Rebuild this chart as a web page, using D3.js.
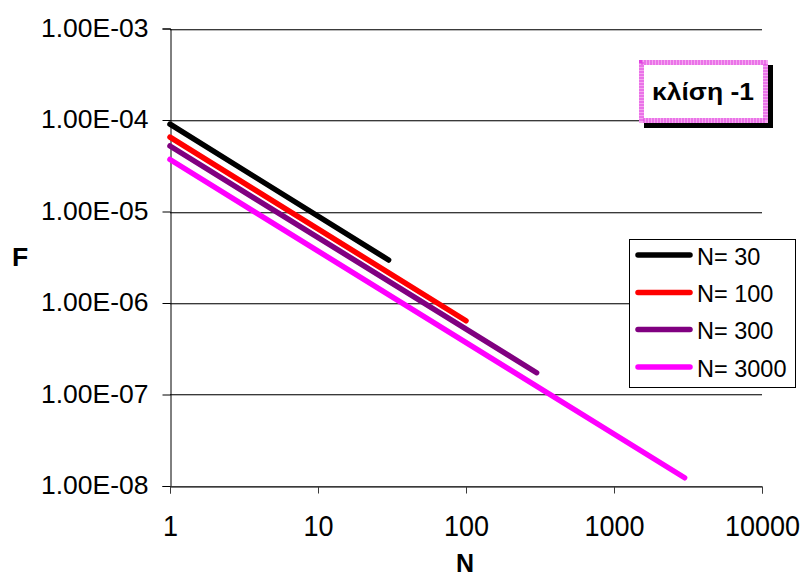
<!DOCTYPE html>
<html>
<head>
<meta charset="utf-8">
<script src="https://cdn.jsdelivr.net/npm/d3@7"></script>
<style>
  html, body { margin: 0; padding: 0; background: #fff; }
  svg { display: block; font-family: Arial, "Liberation Sans", sans-serif; }
</style>
</head>
<body>
<svg id="chart" width="804" height="575"></svg>
<script>
// Series: F against N, one straight log-log segment per system size
const seriesNames = ["N= 30", "N= 100", "N= 300", "N= 3000"];
const seriesColors = ["#000000", "#ff0000", "#800080", "#ff00ff"];
const nFirst = [1, 1, 1, 1];
const nLast = [30, 100, 300, 3000];
const fFirst = [9.0e-5, 6.5e-5, 5.2e-5, 3.7e-5];
const fLast = [2.95e-6, 6.4e-7, 1.73e-7, 1.23e-8];

// Axis ticks
const xTicks = [1, 10, 100, 1000, 10000];
const yTicks = [1e-3, 1e-4, 1e-5, 1e-6, 1e-7, 1e-8];
const slopeNote = "κλίση -1";

const svg = d3.select("#chart");
const plot = { left: 170, right: 762, top: 28.5, bottom: 486 };

const x = d3.scaleLog().domain([1, 10000]).range([plot.left, plot.right]);
const y = d3.scaleLog().domain([1e-8, 1e-3]).range([plot.bottom, plot.top]);

const fmtY = v => {
  const e = Math.round(Math.log10(v));
  const m = v / Math.pow(10, e);
  const sign = e < 0 ? "-" : "+";
  return m.toFixed(2) + "E" + sign + String(Math.abs(e)).padStart(2, "0");
};

// Horizontal gridlines (dark line with a soft grey edge below)
const grid = svg.append("g");
grid.selectAll("line.g2").data(yTicks).join("line")
  .attr("x1", plot.left).attr("x2", plot.right)
  .attr("y1", d => Math.round(y(d)) + 1.5).attr("y2", d => Math.round(y(d)) + 1.5)
  .attr("stroke", "#b8b8b8").attr("stroke-width", 1);
grid.selectAll("line.g1").data(yTicks).join("line")
  .attr("x1", plot.left).attr("x2", plot.right)
  .attr("y1", d => Math.round(y(d)) + 0.5).attr("y2", d => Math.round(y(d)) + 0.5)
  .attr("stroke", "#3a3a3a").attr("stroke-width", 1);

// Y axis
const yAxis = d3.axisLeft(y).tickValues(yTicks).tickFormat(fmtY).tickSize(8).tickPadding(14);
const gy = svg.append("g").attr("transform", `translate(${plot.left + 0.5},0)`).call(yAxis);
gy.select(".domain").attr("stroke", "#000");
gy.selectAll(".tick line").attr("stroke", "#000");
gy.selectAll(".tick text").attr("font-size", 26.5).attr("fill", "#000")
  .attr("dy", "0.3em")
  .attr("font-family", "Arial, 'Liberation Sans', sans-serif");

// X axis
const xAxis = d3.axisBottom(x).tickValues(xTicks).tickFormat(d3.format("d")).tickSize(7).tickPadding(16);
const gx = svg.append("g").attr("transform", `translate(0,${plot.bottom + 0.5})`).call(xAxis);
gx.select(".domain").attr("stroke", "#3a3a3a");
gx.selectAll(".tick line").attr("stroke", "#3a3a3a");
gx.selectAll(".tick text").attr("font-size", 27).attr("fill", "#000")
  .attr("y", null).attr("dy", null)
  .attr("transform", "translate(0,49.5) scale(1,1.08)")
  .attr("font-family", "Arial, 'Liberation Sans', sans-serif");

// Axis titles
svg.append("text").attr("x", 20).attr("y", 265.5).attr("text-anchor", "middle")
  .attr("font-size", 26.5).attr("font-weight", "bold").text("F");
svg.append("text").attr("x", 465).attr("y", 572).attr("text-anchor", "middle")
  .attr("font-size", 25).attr("font-weight", "bold").text("N");

// Data lines
const line = d3.line().x(d => x(d[0])).y(d => y(d[1]));
const series = seriesNames.map((name, i) => ({
  name, color: seriesColors[i],
  pts: [[nFirst[i], fFirst[i]], [nLast[i], fLast[i]]]
}));
svg.append("g").selectAll("path").data(series).join("path")
  .attr("d", d => line(d.pts))
  .attr("fill", "none").attr("stroke", d => d.color)
  .attr("stroke-width", 5.5).attr("stroke-linecap", "round");

// Slope annotation box with shadow and dotted pink frame
const note = { x: 639, y: 60, w: 129, h: 63 };
svg.append("rect").attr("x", note.x + 5).attr("y", note.y + 5)
  .attr("width", note.w).attr("height", note.h).attr("fill", "#000");
svg.append("rect").attr("x", note.x).attr("y", note.y)
  .attr("width", note.w).attr("height", note.h).attr("fill", "#fff");
svg.append("rect").attr("x", note.x + 2.5).attr("y", note.y + 2.5)
  .attr("width", note.w - 5).attr("height", note.h - 5)
  .attr("fill", "none").attr("stroke", "#f5a6f0").attr("stroke-width", 5);
svg.append("rect").attr("x", note.x + 2.5).attr("y", note.y + 2.5)
  .attr("width", note.w - 5).attr("height", note.h - 5)
  .attr("fill", "none").attr("stroke", "#e040e0").attr("stroke-width", 5)
  .attr("stroke-dasharray", "1 2");
svg.append("text").attr("x", 652).attr("y", 99.5)
  .attr("font-size", 24).attr("font-weight", "bold")
  .attr("textLength", 102).attr("lengthAdjust", "spacingAndGlyphs")
  .text(slopeNote);

// Legend
const leg = { x: 629.5, y: 239.5, w: 166, h: 148 };
svg.append("rect").attr("x", leg.x).attr("y", leg.y).attr("width", leg.w).attr("height", leg.h)
  .attr("fill", "#fff").attr("stroke", "#000").attr("stroke-width", 1);
const rowY = [255, 292.5, 329.5, 367];
const lg = svg.append("g").selectAll("g").data(series).join("g")
  .attr("transform", (d, i) => `translate(0,${rowY[i]})`);
lg.append("line").attr("x1", 638).attr("x2", 690).attr("y1", 0).attr("y2", 0)
  .attr("stroke", d => d.color).attr("stroke-width", 5.5).attr("stroke-linecap", "round");
lg.append("text").attr("x", 697).attr("y", 9.5).attr("font-size", 23.5).text(d => d.name);
</script>
</body>
</html>
